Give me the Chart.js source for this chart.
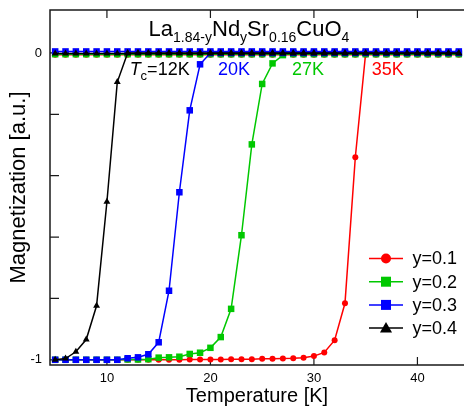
<!DOCTYPE html>
<html><head><meta charset="utf-8">
<script src="https://cdn.jsdelivr.net/npm/chart.js@4/dist/chart.umd.min.js"></script>
<style>html,body{margin:0;padding:0;background:#fff;overflow:hidden}</style>
</head><body>
<canvas id="c" width="464" height="406"></canvas>
<script>
// ---- data ----
const temperatures = [5,6,7,8,9,10,11,12,13,14,15,16,17,18,19,20,21,22,23,24,25,26,27,28,29,30,31,32,33,34,35,36,37,38,39,40,41,42,43,44];
// zero-field-cooled transition curves
const zfcY01 = [-1.0,-1.0,-1.0,-1.0,-1.0,-1.0,-1.0,-1.0,-1.0,-1.0,-1.0,-1.0,-1.0,-0.999,-0.999,-0.999,-0.999,-0.998,-0.998,-0.998,-0.997,-0.997,-0.996,-0.995,-0.993,-0.988,-0.976,-0.936,-0.816,-0.34,0,0,0,0,0,0,0,0,0,0];
const zfcY02 = [-1.0,-1.0,-1.0,-1.0,-1.0,-1.0,-1.0,-0.999,-0.999,-0.998,-0.993,-0.992,-0.99,-0.981,-0.977,-0.961,-0.926,-0.834,-0.594,-0.298,-0.101,-0.034,-0.007,0,0,0,0,0,0,0,0,0,0,0,0,0,0,0,0,0];
const zfcY03 = [-1.0,-1.0,-1.0,-1.0,-1.0,-1.0,-1.0,-0.995,-0.992,-0.982,-0.943,-0.775,-0.454,-0.187,-0.037,0,0,0,0,0,0,0,0,0,0,0,0,0,0,0,0,0,0,0,0,0,0,0,0,0];
const zfcY04 = [-1.0,-0.996,-0.974,-0.934,-0.824,-0.485,-0.095,0,0,0,0,0,0,0,0,0,0,0,0,0,0,0,0,0,0,0,0,0,0,0,0,0,0,0,0,0,0,0,0,0];
// field-cooled curves (flat near zero)
const fcY01 = [-0.006,-0.006,-0.006,-0.006,-0.006,-0.006,-0.006,-0.006,-0.006,-0.006,-0.006,-0.006,-0.006,-0.006,-0.006,-0.006,-0.006,-0.006,-0.006,-0.006,-0.006,-0.006,-0.006,-0.006,-0.006,-0.006,-0.006,-0.006,-0.006,-0.006,-0.006,-0.006,-0.006,-0.006,-0.006,-0.006,-0.006,-0.006,-0.006,-0.006];
const fcY02 = [-0.004,-0.004,-0.004,-0.004,-0.004,-0.004,-0.004,-0.004,-0.004,-0.004,-0.004,-0.004,-0.004,-0.004,-0.004,-0.004,-0.004,-0.004,-0.004,-0.004,-0.004,-0.004,-0.004,-0.004,-0.004,-0.004,-0.004,-0.004,-0.004,-0.004,-0.004,-0.004,-0.004,-0.004,-0.004,-0.004,-0.004,-0.004,-0.004,-0.004];
const fcY03 = [0.005,0.005,0.005,0.005,0.005,0.005,0.005,0.005,0.005,0.005,0.005,0.005,0.005,0.005,0.005,0.005,0.005,0.005,0.005,0.005,0.005,0.005,0.005,0.005,0.005,0.005,0.005,0.005,0.005,0.005,0.005,0.005,0.005,0.005,0.005,0.005,0.005,0.005,0.005,0.005];
const fcY04 = [-0.002,-0.002,-0.002,-0.002,-0.002,-0.002,-0.002,-0.002,-0.002,-0.002,-0.002,-0.002,-0.002,-0.002,-0.002,-0.002,-0.002,-0.002,-0.002,-0.002,-0.002,-0.002,-0.002,-0.002,-0.002,-0.002,-0.002,-0.002,-0.002,-0.002,-0.002,-0.002,-0.002,-0.002,-0.002,-0.002,-0.002,-0.002,-0.002,-0.002];
const seriesLabels = ['y=0.1','y=0.2','y=0.3','y=0.4'];
const tcValues = [12,20,27,35];
const tcLabels = ['12K','20K','27K','35K'];
const xTicks = [10,20,30,40];
const yTicks = [-1,-0.8,-0.6,-0.4,-0.2,0];
const yTickLabels = {'0':'0','-1':'-1'};

// ---- styles ----
const FONT = "'Liberation Sans', Arial, Helvetica, sans-serif";
const colors = ['#ff0000','#00c800','#0000ff','#000000'];
const styles = ['circle','rect','rect','triangle'];
const radii = [3,4.6,4.6,4];

const zfc = [zfcY01,zfcY02,zfcY03,zfcY04];
const fc = [fcY01,fcY02,fcY03,fcY04];
const pts = arr => temperatures.map((t,i)=>({x:t,y:arr[i]}));
const datasets = [];
function baseStyle(i){
  return {borderColor:colors[i],backgroundColor:colors[i],pointBackgroundColor:colors[i],pointBorderColor:colors[i],
    pointStyle:styles[i],pointRadius:radii[i],pointBorderWidth:0,borderWidth:1.5,tension:0,fill:false};
}
for (let i=0;i<4;i++){
  datasets.push(Object.assign({label:seriesLabels[i],data:pts(zfc[i]),order:2*(3-i)},baseStyle(i)));
}
for (let i=0;i<4;i++){
  datasets.push(Object.assign({label:seriesLabels[i]+' FC',data:pts(fc[i]),order:2*(3-i)+1},baseStyle(i)));
}

function marker(ctx, style, x, y, r, color){
  ctx.save(); ctx.fillStyle=color; ctx.beginPath();
  if (style==='circle'){ ctx.arc(x,y,r,0,Math.PI*2); }
  else if (style==='rect'){ ctx.rect(x-r,y-r,2*r,2*r); }
  else { ctx.moveTo(x,y-r*1.1); ctx.lineTo(x+r*1.1,y+r*0.8); ctx.lineTo(x-r*1.1,y+r*0.8); ctx.closePath(); }
  ctx.fill(); ctx.restore();
}

const decor = {
  id:'decor',
  beforeDatasetsDraw(chart){
    const {ctx, chartArea:a, scales:{x,y}} = chart;
    ctx.save();
    ctx.strokeStyle='#1a1a1a'; ctx.lineWidth=1.5;
    ctx.beginPath();
    ctx.moveTo(a.left,a.top); ctx.lineTo(a.right+2,a.top);
    ctx.moveTo(a.left,a.top-0.75); ctx.lineTo(a.left,a.bottom);
    ctx.moveTo(a.left-0.75,a.bottom); ctx.lineTo(a.right+2,a.bottom);
    ctx.stroke();
    ctx.lineWidth=1.2;
    ctx.beginPath();
    xTicks.forEach(v=>{const px=x.getPixelForValue(v);
      ctx.moveTo(px,a.bottom); ctx.lineTo(px,a.bottom-8);
      ctx.moveTo(px,a.top); ctx.lineTo(px,a.top+8);});
    yTicks.forEach(v=>{const py=y.getPixelForValue(v);
      ctx.moveTo(a.left,py); ctx.lineTo(a.left+9,py);});
    ctx.stroke();
    ctx.restore();
  },
  afterDraw(chart){
    const {ctx, scales:{x,y}} = chart;
    ctx.save();
    // title
    const parts = [['La',0],['1.84-y',1],['Nd',0],['y',1],['Sr',0],['0.16',1],['CuO',0],['4',1]];
    const fMain = '22px '+FONT, fSub = '14px '+FONT;
    let w=0;
    parts.forEach(p=>{ctx.font=p[1]?fSub:fMain; w+=ctx.measureText(p[0]).width;});
    let cx = 249 - w/2; const by = 36;
    ctx.fillStyle='#000'; ctx.textBaseline='alphabetic'; ctx.textAlign='left';
    parts.forEach(p=>{ctx.font=p[1]?fSub:fMain; ctx.fillText(p[0],cx,by+(p[1]?6:0)); cx+=ctx.measureText(p[0]).width;});
    // Tc annotations
    const ly = y.getPixelForValue(0)+22;
    const offs = [2,7.5,9,6];
    tcValues.forEach((t,i)=>{
      let px = x.getPixelForValue(t)+offs[i];
      ctx.fillStyle = colors[[3,2,1,0][i]];
      if (i===0){
        ctx.font='italic 18px '+FONT; ctx.fillText('T',px,ly); px+=ctx.measureText('T').width;
        ctx.font='13px '+FONT; ctx.fillText('c',px,ly+5); px+=ctx.measureText('c').width;
        ctx.font='18px '+FONT; ctx.fillText('='+tcLabels[i],px,ly);
      } else {
        ctx.font='18px '+FONT; ctx.fillText(tcLabels[i],px,ly);
      }
    });
    // legend
    seriesLabels.forEach((lab,i)=>{
      const ry = 258.5 + i*23.2;
      ctx.strokeStyle=colors[i]; ctx.lineWidth=1.5;
      ctx.beginPath(); ctx.moveTo(369,ry); ctx.lineTo(403,ry); ctx.stroke();
      marker(ctx, styles[i], 386, ry, styles[i]==='circle'?5:(styles[i]==='rect'?5:5.5), colors[i]);
      ctx.fillStyle='#000'; ctx.font='18px '+FONT; ctx.textBaseline='middle';
      ctx.fillText(lab,412.5,ry+1);
      ctx.textBaseline='alphabetic';
    });
    ctx.restore();
  }
};

function zeroPad(s){ s.paddingTop=0; s.paddingBottom=0; s.paddingLeft=0; s.paddingRight=0; }

new Chart(document.getElementById('c'), {
  type:'line',
  data:{datasets},
  options:{
    responsive:false, animation:false, devicePixelRatio:1,
    layout:{autoPadding:false,padding:{top:10,right:0,left:0,bottom:0}},
    plugins:{legend:{display:false},tooltip:{enabled:false},title:{display:false}},
    scales:{
      x:{type:'linear',min:4.5,max:44.5,
        grid:{display:false,drawTicks:false},border:{display:false},
        afterBuildTicks:s=>{s.ticks=xTicks.map(v=>({value:v}));},
        afterFit:s=>{s.height=41; zeroPad(s);},
        ticks:{color:'#000',font:{family:FONT,size:13},padding:6,maxRotation:0,autoSkip:false},
        title:{display:true,text:'Temperature [K]',color:'#000',font:{family:FONT,size:20,lineHeight:1},padding:{top:0,bottom:0}}
      },
      y:{type:'linear',min:-1.017,max:0.14,
        grid:{display:false,drawTicks:false},border:{display:false},
        afterBuildTicks:s=>{s.ticks=yTicks.map(v=>({value:v}));},
        afterFit:s=>{s.width=50; zeroPad(s);},
        ticks:{color:'#000',font:{family:FONT,size:13},padding:8,autoSkip:false,
          callback:v=>{const k=String(Math.round(v*10)/10); return yTickLabels[k]!==undefined?yTickLabels[k]:'';}},
        title:{display:true,text:'Magnetization [a.u.]',color:'#000',font:{family:FONT,size:22,lineHeight:1},padding:{top:8,bottom:0}}
      }
    }
  },
  plugins:[decor]
});
</script>
</body></html>
